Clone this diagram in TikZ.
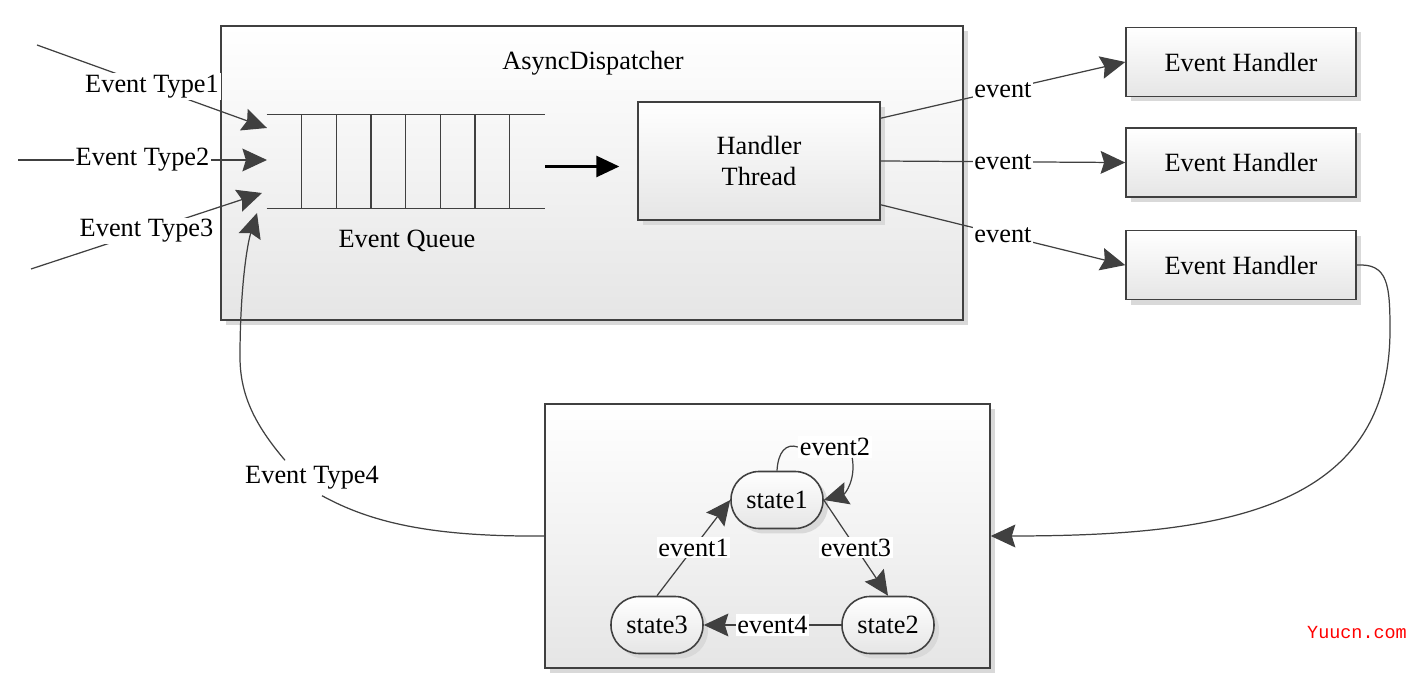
\documentclass[tikz,border=0pt]{standalone}
\usepackage{fontspec}
\setmainfont{Liberation Serif}
\newfontfamily\markfont{Liberation Mono}
\usetikzlibrary{arrows.meta}
\usetikzlibrary{positioning}
\usetikzlibrary{shadows}
\usetikzlibrary{calc}
\definecolor{linegray}{RGB}{64,64,64}

\begin{document}
\begin{tikzpicture}[x=0.02cm, y=-0.02cm, every node/.style={font=\fontsize{15}{18}\selectfont}]

\tikzstyle{panel}=[draw=linegray, line width=0.9pt, top color=white, bottom color=black!10, drop shadow={shadow xshift=0.1cm, shadow yshift=-0.1cm, fill=black!15, opacity=1}]
\tikzstyle{handler}=[panel, minimum width=4.6cm, minimum height=1.38cm]
\tikzstyle{state}=[panel, rounded corners=0.56cm, minimum width=1.84cm, minimum height=1.14cm]
\tikzstyle{line}=[draw=linegray, line width=0.7pt, -{Stealth[length=14pt, width=13pt, inset=2pt, linegray]}]
\tikzstyle{plain}=[draw=linegray, line width=0.7pt]
\tikzstyle{tag}=[fill=white, inner sep=1pt]

\useasboundingbox (0,0) rectangle (1418,688);

% dispatcher
\node[panel, minimum width=14.84cm, minimum height=5.88cm] (disp) at (592,173) {};
\node (title) at (593,63) {AsyncDispatcher};

\node[minimum width=5.56cm, minimum height=1.86cm, inner sep=0pt] (queue) at (406,161.5) {};
\draw[plain] (queue.north west) -- (queue.north east);
\draw[plain] (queue.south west) -- (queue.south east);
\foreach \i in {0,...,6}
  \draw[plain] ($(queue.north west)+(35+34.67*\i,0)$) -- ($(queue.south west)+(35+34.67*\i,0)$);
\node (qname) at (407,241) {Event Queue};

\node[panel, minimum width=4.84cm, minimum height=2.36cm, align=center] (thread) at (759,161) {Handler\\Thread};

\node[handler] (eh1) at (1241,62) {Event Handler};
\node[handler, below=0.6cm of eh1] (eh2) {Event Handler};
\node[handler, below=0.64cm of eh2] (eh3) {Event Handler};

% state machine
\node[panel, minimum width=8.9cm, minimum height=5.28cm] (fsm) at (767.5,536) {};
\node[state] (s1) at (777,500) {state1};
\node[state] (s2) at (888,625) {state2};
\node[state] (s3) at (657,625) {state3};

% incoming events
\coordinate (src1) at (37,45);
\coordinate (src2) at (18,160);
\coordinate (src3) at (31,269);
\coordinate (in1) at (267,128);
\coordinate (in2) at (267,160);
\coordinate (in3) at (262,193);
\coordinate (in4) at (257,213);

\path[line] (src1) -- node[tag] (et1) {Event Type1} (in1);
\path[line] (src2) -- node[tag] (et2) {Event Type2} (in2);
\path[line] (src3) -- node[tag] (et3) {Event Type3} (in3);

\draw[draw=black, line width=1.2pt, -{Triangle[length=13pt, width=12pt]}] ($(queue.east)+(0,5)$) -- ($(queue.east -| thread.west)+(-18,5)$);

\path[line] ($(thread.north east)+(0,17)$) -- node[tag] {event} (eh1.west);
\path[line] (thread.east) -- node[tag] {event} (eh2.west);
\path[line] ($(thread.south east)+(0,-16)$) -- node[tag] {event} (eh3.west);

% feedback
\path[line] (eh3.east) .. controls (1388,263) and (1390,285) .. (1390,330) .. controls (1390,510) and (1222,536) .. (fsm.east);
\node (et4) at (312,478) {Event Type4};
\path[plain] (fsm.west) .. controls (430,537) and (370,522) .. ($(et4.south)+(10,0)$);
\path[line] ($(et4.north)+(-27,0)$) .. controls (255,425) and (240,395) .. (240,357) .. controls (240,290) and (247,245) .. (in4);

% transitions
\path[line] (s3.north) -- node[tag] {event1} (s1.west);
\path[line] (s1.east) -- node[tag] {event3} (s2.north);
\path[line] (s2.west) -- node[tag] {event4} (s3.east);
\node[tag] (ev2) at (835,447) {event2};
\path[plain] (s1.north) .. controls (778,452) and (786,443) .. (ev2.west);
\path[line] ($(ev2.south east)+(-20,0)$) .. controls (856,480) and (845,494) .. (s1.east);

\node[text=red, font=\markfont\fontsize{10.5}{12}\selectfont] (mark) at (1357,633) {Yuucn.com};

\end{tikzpicture}
\end{document}
